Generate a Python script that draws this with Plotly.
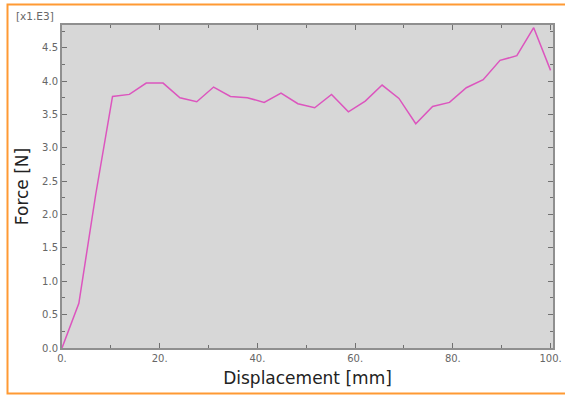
import plotly.graph_objects as go

displacement_mm = [0.0, 3.45, 6.9, 10.34, 13.79, 17.24, 20.69, 24.14, 27.59, 31.03,
                   34.48, 37.93, 41.38, 44.83, 48.28, 51.72, 55.17, 58.62, 62.07, 65.52,
                   68.97, 72.41, 75.86, 79.31, 82.76, 86.21, 89.66, 93.10, 96.55, 100.0]
force_kN = [0.0, 0.67, 2.30, 3.77, 3.80, 3.97, 3.97, 3.75, 3.69, 3.91,
            3.77, 3.75, 3.68, 3.82, 3.66, 3.60, 3.80, 3.54, 3.70, 3.94,
            3.74, 3.36, 3.62, 3.68, 3.90, 4.02, 4.31, 4.38, 4.80, 4.16]

x_tickvals = [0, 20, 40, 60, 80, 100]
x_ticktext = ["0.", "20.", "40.", "60.", "80.", "100."]
x_minor = [10, 30, 50, 70, 90]
y_tickvals = [0.0, 0.5, 1.0, 1.5, 2.0, 2.5, 3.0, 3.5, 4.0, 4.5]
y_ticktext = ["0.0", "0.5", "1.0", "1.5", "2.0", "2.5", "3.0", "3.5", "4.0", "4.5"]
y_minor = [0.25, 0.75, 1.25, 1.75, 2.25, 2.75, 3.25, 3.75, 4.25, 4.75]

W, H = 565, 396
L, R, T, B = 62, 12, 25, 48
pw, ph = W - L - R, H - T - B

fig = go.Figure()
fig.add_trace(go.Scatter(x=displacement_mm, y=force_kN, mode="lines",
                         line=dict(color="#dc55be", width=1.5), hoverinfo="x+y"))

tickfont = dict(family="DejaVu Sans", size=10, color="#666666")
axis_common = dict(showline=True, linecolor="#8f8f8f", linewidth=2, mirror="allticks",
                   ticks="inside", ticklen=5, tickwidth=1, tickcolor="#707070",
                   showgrid=False, zeroline=False, tickfont=tickfont, automargin=False)

fig.update_xaxes(range=[0, 100.5], tickmode="array", tickvals=x_tickvals, ticktext=x_ticktext,
                 minor=dict(tickmode="array", tickvals=x_minor, ticks="inside", ticklen=3,
                            tickcolor="#707070", showgrid=False),
                 title=dict(text="Displacement [mm]", standoff=9,
                            font=dict(family="DejaVu Sans", size=17, color="#222222")),
                 **axis_common)
fig.update_yaxes(range=[0, 4.84], tickmode="array", tickvals=y_tickvals, ticktext=y_ticktext,
                 minor=dict(tickmode="array", tickvals=y_minor, ticks="inside", ticklen=3,
                            tickcolor="#707070", showgrid=False),
                 title=dict(text="Force [N]", standoff=9,
                            font=dict(family="DejaVu Sans", size=17, color="#222222")),
                 **axis_common)

# orange frame around the figure
fx0 = (7.5 - L) / pw
fx1 = (W + 10 - L) / pw
fy1 = (H - B - 4.5) / ph
fy0 = (H - B - 393.5) / ph
fig.add_shape(type="rect", xref="paper", yref="paper", x0=fx0, x1=fx1, y0=fy0, y1=fy1,
              line=dict(color="#ff9a33", width=2), fillcolor="rgba(0,0,0,0)", layer="above")

fig.add_annotation(text="[x1.E3]", xref="paper", yref="paper",
                   x=(14 - L) / pw, y=(H - B - 16) / ph, xanchor="left", yanchor="middle",
                   showarrow=False, font=dict(family="DejaVu Sans", size=10.5, color="#666666"))

fig.update_layout(width=W, height=H, margin=dict(l=L, r=R, t=T, b=B),
                  paper_bgcolor="white", plot_bgcolor="#d7d7d7", showlegend=False)

fig.write_html("out.html", config={"displayModeBar": False},
               post_script="document.body.style.margin='0px';document.body.style.overflow='hidden';")
